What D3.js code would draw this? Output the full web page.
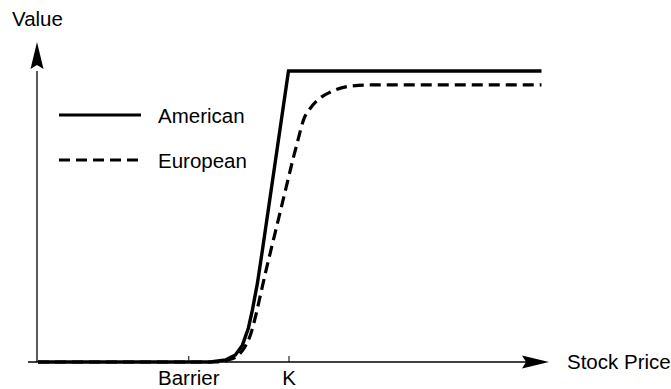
<!DOCTYPE html>
<html>
<head>
<meta charset="utf-8">
<script src="https://cdn.jsdelivr.net/npm/d3@7"></script>
<style>
  body { margin: 0; background: #fff; }
  text { font-family: "Liberation Sans", Arial, sans-serif; }
</style>
</head>
<body>
<svg id="chart" width="671" height="389"></svg>
<script>
// stock price / option value pairs
const americanPrice = [0, 68.8, 74.8, 78.8, 81.6, 84, 85.6, 87.6, 89.6, 100, 201];
const americanValue = [0, 0, 0.7, 2.4, 5.8, 11.7, 17.9, 27.1, 38.5, 100, 100];

const europeanPrice = [0, 70.8, 76, 80, 82.8, 84.8, 86.8, 88.8, 90.8, 92.8, 96, 99.2, 102, 104, 106, 108.8, 111.6, 116.8, 124.8, 132.8, 201];
const europeanValue = [0, 0, 0.7, 2.4, 5.5, 9.3, 15.5, 23, 30.6, 37.8, 49.1, 60.5, 70.4, 77, 83.2, 87.3, 90, 92.8, 94.8, 95.2, 95.2];

const tickValues = [60, 100];
const tickLabels = ["Barrier", "K"];

const svg = d3.select("#chart");
const fontSize = "20.5px";

const x = d3.scaleLinear().domain([0, 204]).range([38, 549]);
const y = d3.scaleLinear().domain([0, 110]).range([362, 41.9]);

// axes lines
svg.append("line")
    .attr("x1", x(-4)).attr("x2", x(200))
    .attr("y1", y(0)).attr("y2", y(0))
    .attr("stroke", "#000").attr("stroke-width", 1.3);
svg.append("line")
    .attr("x1", x(0) - 1).attr("x2", x(0) - 1)
    .attr("y1", y(0)).attr("y2", y(100))
    .attr("stroke", "#000").attr("stroke-width", 1.3);

// arrow heads
const xt = x(204), yt = y(0);
svg.append("path")
    .attr("d", `M${xt},${yt} L${xt - 27},${yt - 6.5} L${xt - 23},${yt} L${xt - 27},${yt + 6.5} Z`)
    .attr("fill", "#000");
const ax = x(0) - 1, at = y(110);
svg.append("path")
    .attr("d", `M${ax},${at} L${ax + 6.5},${at + 27} L${ax},${at + 23} L${ax - 6.5},${at + 27} Z`)
    .attr("fill", "#000");

// ticks
const xAxis = d3.axisBottom(x)
    .tickValues(tickValues)
    .tickSize(-6)
    .tickFormat((d, i) => tickLabels[i]);
const gx = svg.append("g")
    .attr("transform", `translate(0,${y(0)})`)
    .call(xAxis);
gx.select(".domain").remove();
gx.selectAll(".tick line").attr("stroke", "#000").attr("stroke-width", 1);
gx.selectAll(".tick text")
    .attr("y", 23).attr("dy", null)
    .attr("fill", "#000")
    .style("font-size", fontSize)
    .style("font-family", "'Liberation Sans', Arial, sans-serif");

// axis titles
svg.append("text").attr("x", 12).attr("y", 26)
    .style("font-size", fontSize).text("Value");
svg.append("text").attr("x", 567).attr("y", 369)
    .style("font-size", fontSize).text("Stock Price");

// curves
const american = americanPrice.map((p, i) => [p, americanValue[i]]);
const european = europeanPrice.map((p, i) => [p, europeanValue[i]]);

svg.append("path")
    .datum(european)
    .attr("d", d3.line().x(d => x(d[0])).y(d => y(d[1])).curve(d3.curveMonotoneX))
    .attr("fill", "none")
    .attr("stroke", "#000")
    .attr("stroke-width", 3.2)
    .attr("stroke-dasharray", "11,6");

svg.append("path")
    .datum(american)
    .attr("d", d3.line().x(d => x(d[0])).y(d => y(d[1])).curve(d3.curveLinear))
    .attr("fill", "none")
    .attr("stroke", "#000")
    .attr("stroke-width", 3.4)
    .attr("stroke-linejoin", "miter");

// legend
const legend = svg.append("g");
const legendItems = [
    { label: "American", dash: null, y: 115, ty: 123 },
    { label: "European", dash: "11,6", y: 160, ty: 168 }
];
legendItems.forEach(item => {
    legend.append("line")
        .attr("x1", 59).attr("x2", 141)
        .attr("y1", item.y).attr("y2", item.y)
        .attr("stroke", "#000").attr("stroke-width", 3.2)
        .attr("stroke-dasharray", item.dash);
    legend.append("text")
        .attr("x", 158).attr("y", item.ty)
        .style("font-size", fontSize)
        .text(item.label);
});
</script>
</body>
</html>
